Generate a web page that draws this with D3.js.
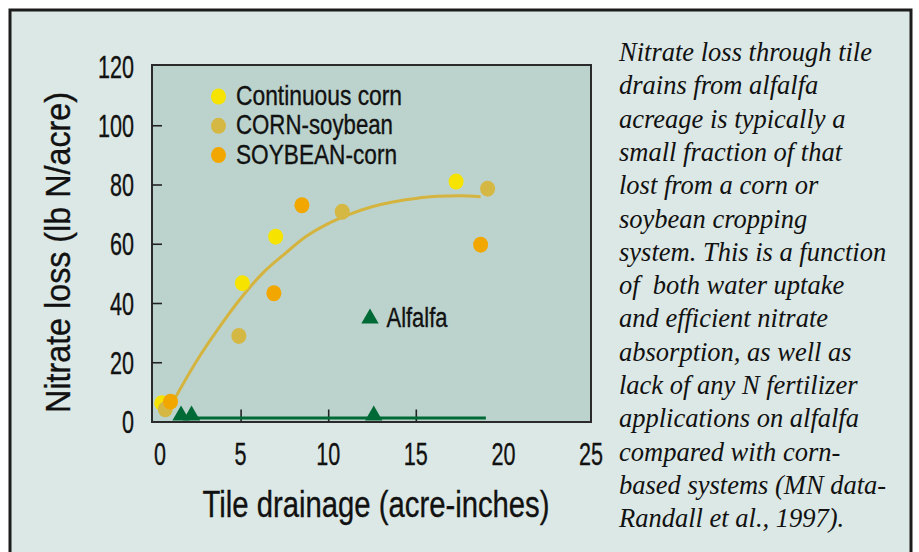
<!DOCTYPE html>
<html><head><meta charset="utf-8">
<script src="https://cdn.jsdelivr.net/npm/d3@7"></script>
<style>
html,body{margin:0;padding:0;background:#fff;}
svg{display:block;}
</style></head>
<body>
<svg id="chart" width="919" height="552"></svg>
<script>
// ---- data ----
const xTickLabels = [0, 5, 10, 15, 20, 25];
const xTickMarks = [5, 10, 15];
const yTickLabels = [0, 20, 40, 60, 80, 100, 120];
const yTickMarks = [20, 40, 60, 80, 100];

const continuousCorn = [[0.5, 6.2], [5.1, 46.7], [7.0, 62.4], [17.3, 81.0]];
const cornSoybean = [[0.7, 4.1], [4.9, 28.9], [10.8, 70.8], [19.1, 78.6]];
const soybeanCorn = [[1.0, 6.7], [6.9, 43.3], [8.5, 73.0], [18.7, 59.7]];
const alfalfa = [[1.6, 2.0], [2.2, 2.0], [12.6, 2.0]];
const alfalfaLine = [[1.6, 1.2], [19.0, 1.2]];
const trendCurve = [[1.25, 7.8], [2.5, 20.5], [3.75, 31.5], [5.0, 41.5], [6.25, 50.0], [7.5, 56.5],
  [8.75, 62.5], [10.0, 66.8], [11.25, 70.0], [12.5, 72.5], [13.75, 74.2], [15.0, 75.3],
  [16.25, 76.0], [17.5, 76.2], [18.7, 75.9]];

const seriesNames = ["Continuous corn", "CORN-soybean", "SOYBEAN-corn"];
const seriesColors = ["#f6e400", "#d5b843", "#f2a700"];
const seriesData = [continuousCorn, cornSoybean, soybeanCorn];
const legendWidths = [166, 157, 161];

const xTitle = "Tile drainage (acre-inches)";
const yTitle = "Nitrate loss (lb N/acre)";
const noteLines = [
  "Nitrate loss through tile",
  "drains from alfalfa",
  "acreage is typically a",
  "small fraction of that",
  "lost from a corn or",
  "soybean cropping",
  "system. This is a function",
  "of  both water uptake",
  "and efficient nitrate",
  "absorption, as well as",
  "lack of any N fertilizer",
  "applications on alfalfa",
  "compared with corn-",
  "based systems (MN data-",
  "Randall et al., 1997)."
];

// ---- drawing ----
const svg = d3.select("#chart");
const sansNarrow = "'Liberation Sans Narrow', 'Liberation Sans', Arial, sans-serif";
const green = "#006a36";
const ink = "#111";

function sansText(sel, size) {
  return sel.attr("font-family", sansNarrow).attr("font-size", size)
    .attr("fill", ink).attr("stroke", ink).attr("stroke-width", 0.35)
    .attr("lengthAdjust", "spacingAndGlyphs");
}

svg.append("rect").attr("x", 10).attr("y", 10).attr("width", 901).attr("height", 560)
  .attr("fill", "#dce8e5").attr("stroke", "#1c1c1c").attr("stroke-width", 3);

const x = d3.scaleLinear().domain([0, 25]).range([153, 591]);
const y = d3.scaleLinear().domain([0, 120]).range([421.5, 66]);

svg.append("rect").attr("x", 152).attr("y", 65).attr("width", 439).attr("height", 357)
  .attr("fill", "#bcd3cd").attr("stroke", "#2a2a2a").attr("stroke-width", 2);

// axes: tick marks pointing inward
const yAxis = d3.axisLeft(y).tickValues(yTickMarks).tickSize(-10).tickFormat("");
svg.append("g").attr("transform", "translate(152,0)").call(yAxis)
  .call(g => g.select(".domain").remove())
  .call(g => g.selectAll("line").attr("stroke", "#222").attr("stroke-width", 1.6));

const xAxis = d3.axisBottom(x).tickValues(xTickMarks).tickSize(-12).tickFormat("");
svg.append("g").attr("transform", "translate(0,421.5)").call(xAxis)
  .call(g => g.select(".domain").remove())
  .call(g => g.selectAll("line").attr("stroke", "#222").attr("stroke-width", 1.6));

// tick labels
svg.append("g").selectAll("text").data(yTickLabels).join("text")
  .attr("x", 134).attr("y", d => y(d)).attr("dy", "0.36em")
  .attr("text-anchor", "end")
  .call(s => sansText(s, 32))
  .attr("textLength", d => String(d).length * 12)
  .text(d => d);

svg.append("g").selectAll("text").data(xTickLabels).join("text")
  .attr("x", d => x(d) + (d === 0 ? 7 : 0)).attr("y", 465)
  .attr("text-anchor", "middle")
  .call(s => sansText(s, 32))
  .attr("textLength", d => String(d).length * 12)
  .text(d => d);

// titles
svg.append("text").attr("x", 376).attr("y", 516.5).attr("text-anchor", "middle")
  .call(s => sansText(s, 36))
  .attr("textLength", 347)
  .text(xTitle);

svg.append("text").attr("transform", "translate(70,252.5) rotate(-90)")
  .attr("text-anchor", "middle")
  .call(s => sansText(s, 35))
  .attr("textLength", 321)
  .text(yTitle);

// trend curve
const line = d3.line().x(d => x(d[0])).y(d => y(d[1])).curve(d3.curveMonotoneX);
svg.append("path").datum(trendCurve).attr("d", line)
  .attr("fill", "none").attr("stroke", "#d4b43e").attr("stroke-width", 3);

// alfalfa line
svg.append("path").datum(alfalfaLine).attr("d", d3.line().x(d => x(d[0])).y(d => y(d[1])))
  .attr("fill", "none").attr("stroke", green).attr("stroke-width", 3);

// points
seriesData.forEach((data, i) => {
  svg.append("g").selectAll("ellipse").data(data).join("ellipse")
    .attr("cx", d => x(d[0])).attr("cy", d => y(d[1]))
    .attr("rx", 7.5).attr("ry", 8)
    .attr("fill", seriesColors[i]);
});

const tri = d3.symbol().type(d3.symbolTriangle).size(130);
svg.append("g").selectAll("path").data(alfalfa).join("path")
  .attr("transform", d => `translate(${x(d[0])},${y(d[1])})`)
  .attr("d", tri).attr("fill", green);

// legend
const leg = svg.append("g");
seriesNames.forEach((name, i) => {
  const by = 105 + i * 29.3;
  leg.append("ellipse").attr("cx", 218.5).attr("cy", by - 8.5).attr("rx", 7.5).attr("ry", 8)
    .attr("fill", seriesColors[i]);
  leg.append("text").attr("x", 236).attr("y", by)
    .call(s => sansText(s, 28))
    .attr("textLength", legendWidths[i])
    .text(name);
});
leg.append("path").attr("transform", "translate(370,318.5)").attr("d", tri).attr("fill", green);
leg.append("text").attr("x", 386.5).attr("y", 326.5)
  .call(s => sansText(s, 27))
  .attr("textLength", 61)
  .text("Alfalfa");

// note text
svg.append("g").selectAll("text").data(noteLines).join("text")
  .attr("x", 619).attr("y", (d, i) => 61 + i * 33.3)
  .attr("font-family", "'Liberation Serif', 'Times New Roman', serif")
  .attr("font-style", "italic").attr("font-size", 26.5).attr("fill", ink)
  .attr("xml:space", "preserve").style("white-space", "pre")
  .text(d => d);
</script>
</body></html>
